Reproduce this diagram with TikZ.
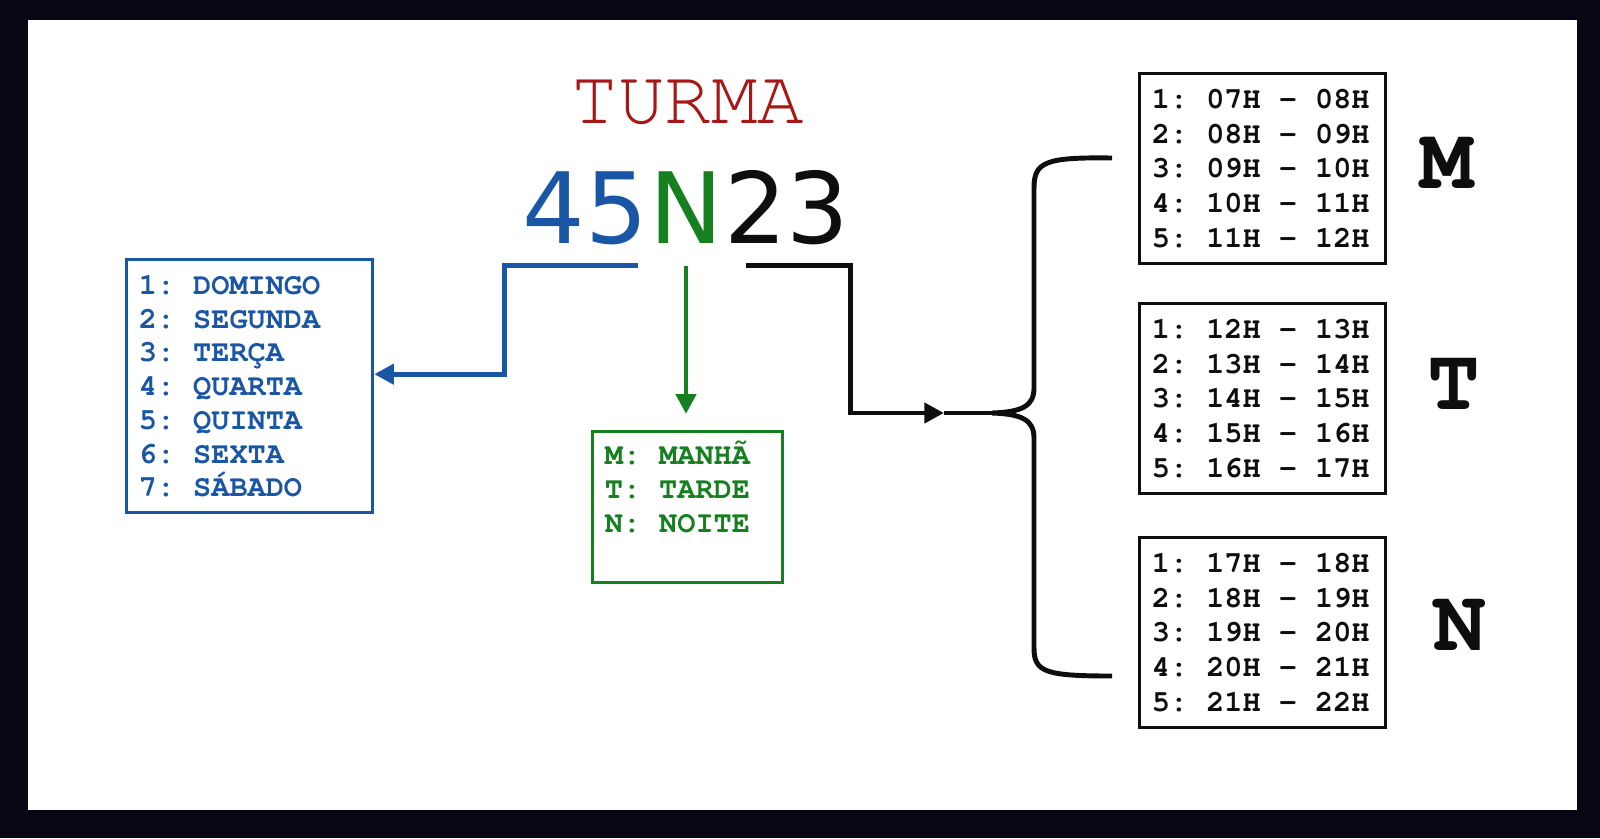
\documentclass[tikz,border=0pt]{standalone}
\usepackage{fontspec}
\usetikzlibrary{arrows.meta}
\newfontfamily\courfont{texgyrecursor}[Extension=.otf, UprightFont=*-regular, BoldFont=*-bold]
\newfontfamily\digitfont{DejaVu Sans}
\newcommand\listfont[1]{\courfont\bfseries\fontsize{8.6}{#1}\selectfont}
\definecolor{framebg}{RGB}{6,6,20}
\definecolor{turmared}{RGB}{168,22,22}
\definecolor{dayblue}{RGB}{26,86,166}
\definecolor{shiftgreen}{RGB}{22,128,32}
\definecolor{ink}{RGB}{14,14,14}
\begin{document}
\begin{tikzpicture}[x=0.01cm, y=-0.01cm, line join=miter, >={Triangle[length=5.6pt, width=5.6pt]},
  listbox/.style={draw, line width=0.85pt, anchor=north west, align=left, inner xsep=3.5pt, inner ysep=4.4pt,
    font=\listfont{9.6}, execute at begin node={\spaceskip=5.16pt\relax\xspaceskip=5.16pt\relax}},
  hourbox/.style={listbox, draw=ink, text=ink, text width=63pt, font=\listfont{9.9}},
  codepart/.style={font=\digitfont\fontsize{28}{32}\selectfont, inner sep=0pt},
  shiftletter/.style={font=\courfont\bfseries\fontsize{25}{28}\selectfont, text=ink, inner sep=0pt},
  link/.style={line width=1.4pt}]
	% Dark frame round the white sheet
	\fill[framebg] (0,0) rectangle (1600,838);
	\fill[white] (28,20) rectangle (1577,810);
	
	% Title and class code
	\node[text=turmared, font=\courfont\fontsize{22}{24}\selectfont, anchor=base] (title) at (688,123) {TURMA};
	\node[codepart, text=shiftgreen, anchor=base] (shift) at (686,243) {N};
	\node[codepart, text=dayblue, anchor=base east] (day) at (shift.base west) {45};
	\node[codepart, text=ink, anchor=base west] (slot) at (shift.base east) {23};
	
	% Meaning of each part
	\node[listbox, draw=dayblue, text=dayblue, text width=63pt] (days) at (125,258)
	{1: DOMINGO\\2: SEGUNDA\\3: TERÇA\\4: QUARTA\\5: QUINTA\\6: SEXTA\\7: SÁBADO};
	\node[listbox, draw=shiftgreen, text=shiftgreen, text width=47pt, font=\listfont{9.7}] (shifts) at (591,430)
	{M: MANH\smash{Ã}\\T: TARDE\\N: NOITE\\\mbox{}};
	
	% Time slots per shift
	\node[hourbox] (morning) at (1138,72)
	{1: 07H - 08H\\2: 08H - 09H\\3: 09H - 10H\\4: 10H - 11H\\5: 11H - 12H};
	\node[hourbox] (afternoon) at (1138,302)
	{1: 12H - 13H\\2: 13H - 14H\\3: 14H - 15H\\4: 15H - 16H\\5: 16H - 17H};
	\node[hourbox] (night) at (1138,536)
	{1: 17H - 18H\\2: 18H - 19H\\3: 19H - 20H\\4: 20H - 21H\\5: 21H - 22H};
	\node[shiftletter] (mletter) at (1447,163) {M};
	\node[shiftletter] (tletter) at (1454,384) {T};
	\node[shiftletter] (nletter) at (1460,625) {N};
	
	% Connectors
	\draw[link, dayblue, ->] ([xshift=-3pt, yshift=-5.7pt]day.south east) -- ++(-133,0) |- ([yshift=3.4pt]days.east);
	\draw[link, shiftgreen, ->] ([yshift=-6.3pt]shift.south) -- ++(0,148);
	\coordinate (slotin) at (944,413);
	\coordinate (bracetip) at (992,413);
	\draw[link, ink, ->] ([xshift=6.3pt, yshift=-5.7pt]slot.south west) -- ([yshift=-5.7pt]slot.south east) |- (slotin);
	\draw[link, ink] (slotin) -- (bracetip);
	
	% Brace over the three shifts
	\draw[link, ink] (1112,158) .. controls (1045,157) and (1034,162) .. (1034,188)
		-- (1034,388) .. controls (1034,406) and (1022,412) .. (bracetip)
		.. controls (1022,414) and (1034,420) .. (1034,438)
		-- (1034,648) .. controls (1034,672) and (1045,676) .. (1112,676);
\end{tikzpicture}
\end{document}
